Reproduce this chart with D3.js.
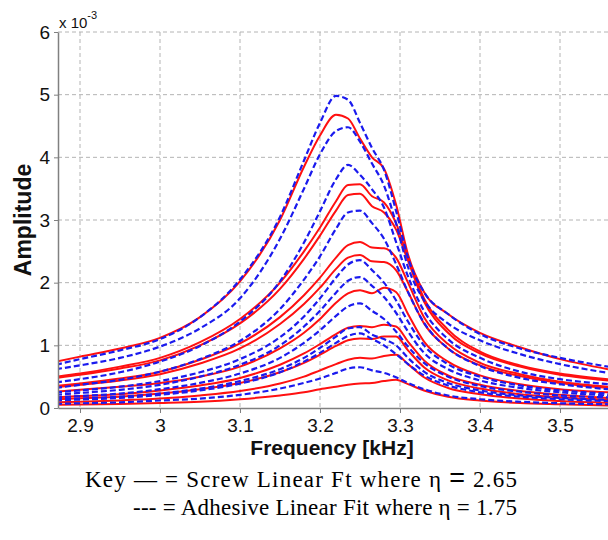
<!DOCTYPE html>
<html>
<head>
<meta charset="utf-8">
<script src="https://cdn.jsdelivr.net/npm/d3@7"></script>
<style>
  body { margin: 0; background: #fff; }
  svg { display: block; }
</style>
</head>
<body>
<div id="chart"></div>
<script>
// frequency samples [kHz]
const freqs = [2.87, 2.9, 2.95, 3.0, 3.05, 3.1, 3.15, 3.18, 3.2, 3.22, 3.235, 3.25, 3.265, 3.28, 3.295, 3.31, 3.33, 3.36, 3.4, 3.45, 3.5, 3.56];

// amplitudes in units of 1e-3
// screw linear fit (red, solid)
const screwFits = [
  [0.74, 0.82, 0.95, 1.12, 1.45, 2.02, 3.0, 3.85, 4.35, 4.68, 4.62, 4.3, 4.0, 3.82, 3.25, 2.45, 1.85, 1.5, 1.2, 0.97, 0.78, 0.62],
  [0.5, 0.55, 0.66, 0.8, 1.05, 1.42, 2.0, 2.5, 2.88, 3.3, 3.56, 3.57, 3.38, 3.28, 2.95, 2.4, 1.75, 1.25, 0.9, 0.68, 0.55, 0.46],
  [0.48, 0.53, 0.63, 0.76, 1.0, 1.35, 1.9, 2.38, 2.75, 3.15, 3.4, 3.42, 3.22, 3.12, 2.85, 2.35, 1.7, 1.2, 0.87, 0.66, 0.53, 0.44],
  [0.35, 0.39, 0.47, 0.58, 0.77, 1.03, 1.45, 1.8, 2.08, 2.4, 2.6, 2.65, 2.56, 2.55, 2.4, 2.0, 1.45, 1.02, 0.72, 0.54, 0.42, 0.34],
  [0.33, 0.37, 0.44, 0.54, 0.71, 0.95, 1.34, 1.66, 1.92, 2.22, 2.4, 2.44, 2.34, 2.33, 2.2, 1.85, 1.35, 0.95, 0.68, 0.51, 0.4, 0.32],
  [0.26, 0.29, 0.34, 0.4, 0.5, 0.66, 0.95, 1.2, 1.42, 1.68, 1.83, 1.88, 1.83, 1.92, 1.85, 1.5, 1.06, 0.74, 0.52, 0.38, 0.3, 0.25],
  [0.17, 0.19, 0.22, 0.28, 0.36, 0.48, 0.69, 0.87, 1.02, 1.18, 1.28, 1.31, 1.29, 1.33, 1.3, 1.06, 0.76, 0.52, 0.37, 0.27, 0.21, 0.16],
  [0.14, 0.155, 0.18, 0.23, 0.3, 0.4, 0.57, 0.72, 0.85, 0.99, 1.08, 1.11, 1.1, 1.14, 1.14, 0.92, 0.65, 0.44, 0.31, 0.22, 0.17, 0.13],
  [0.09, 0.1, 0.12, 0.15, 0.2, 0.27, 0.39, 0.5, 0.6, 0.7, 0.77, 0.8, 0.79, 0.83, 0.85, 0.7, 0.49, 0.32, 0.22, 0.15, 0.11, 0.08],
  [0.05, 0.055, 0.065, 0.08, 0.1, 0.14, 0.2, 0.25, 0.3, 0.34, 0.37, 0.39, 0.4, 0.43, 0.45, 0.38, 0.28, 0.18, 0.12, 0.08, 0.06, 0.04],
];

// adhesive linear fit (blue, dashed)
const adhesiveFits = [
  [0.69, 0.78, 0.92, 1.1, 1.45, 2.05, 3.05, 3.95, 4.55, 4.98, 4.92, 4.55, 4.15, 3.8, 3.15, 2.4, 1.85, 1.5, 1.18, 0.95, 0.8, 0.66],
  [0.62, 0.68, 0.8, 0.98, 1.27, 1.75, 2.7, 3.5, 4.05, 4.42, 4.48, 4.25, 3.9, 3.55, 2.95, 2.25, 1.72, 1.35, 1.08, 0.86, 0.7, 0.56],
  [0.41, 0.46, 0.57, 0.74, 0.99, 1.38, 2.02, 2.64, 3.14, 3.65, 3.88, 3.72, 3.49, 3.2, 2.65, 2.1, 1.55, 1.1, 0.8, 0.58, 0.46, 0.38],
  [0.32, 0.37, 0.45, 0.58, 0.78, 1.07, 1.58, 2.05, 2.42, 2.86, 3.12, 3.15, 2.95, 2.7, 2.3, 1.85, 1.36, 0.95, 0.67, 0.48, 0.38, 0.3],
  [0.25, 0.28, 0.34, 0.43, 0.57, 0.78, 1.13, 1.46, 1.75, 2.08, 2.29, 2.36, 2.2, 2.0, 1.72, 1.38, 1.0, 0.7, 0.5, 0.36, 0.28, 0.23],
  [0.21, 0.24, 0.29, 0.37, 0.5, 0.69, 1.0, 1.3, 1.55, 1.84, 2.03, 2.09, 1.95, 1.77, 1.52, 1.22, 0.88, 0.62, 0.44, 0.32, 0.25, 0.2],
  [0.17, 0.19, 0.23, 0.3, 0.4, 0.55, 0.8, 1.04, 1.24, 1.47, 1.62, 1.67, 1.55, 1.42, 1.22, 0.98, 0.72, 0.5, 0.35, 0.26, 0.2, 0.17],
  [0.14, 0.15, 0.18, 0.23, 0.31, 0.43, 0.62, 0.8, 0.96, 1.14, 1.27, 1.29, 1.17, 1.1, 1.0, 0.8, 0.58, 0.4, 0.28, 0.2, 0.16, 0.13],
  [0.12, 0.135, 0.16, 0.21, 0.28, 0.39, 0.57, 0.74, 0.88, 1.04, 1.15, 1.19, 1.1, 1.0, 0.86, 0.7, 0.52, 0.36, 0.25, 0.18, 0.14, 0.11],
  [0.065, 0.075, 0.09, 0.12, 0.15, 0.21, 0.31, 0.4, 0.47, 0.56, 0.63, 0.65, 0.6, 0.56, 0.49, 0.4, 0.3, 0.2, 0.14, 0.1, 0.075, 0.06],
];

const xTicks = [2.9, 3, 3.1, 3.2, 3.3, 3.4, 3.5];
const yTicks = [0, 1, 2, 3, 4, 5, 6];

const width = 608;
const height = 540;
const margin = { left: 58, right: 0, top: 32, bottom: 132 };

const svg = d3
  .select("#chart")
  .append("svg")
  .attr("width", width)
  .attr("height", height);

const x = d3.scaleLinear().domain([2.8725, 3.56]).range([margin.left, width - margin.right]);
const y = d3.scaleLinear().domain([0, 6]).range([height - margin.bottom, margin.top]);

const sans = "'Liberation Sans', Arial, sans-serif";
const serif = "'Liberation Serif', 'Times New Roman', serif";

// grid
const grid = svg.append("g").attr("stroke", "#b4b4b4").attr("stroke-width", 1).attr("stroke-dasharray", "4,3");
grid
  .selectAll("line.vx")
  .data(xTicks)
  .enter()
  .append("line")
  .attr("x1", (d) => x(d))
  .attr("x2", (d) => x(d))
  .attr("y1", y(6))
  .attr("y2", y(0));
grid
  .selectAll("line.hy")
  .data(yTicks.filter((d) => d > 0))
  .enter()
  .append("line")
  .attr("x1", x.range()[0])
  .attr("x2", x.range()[1])
  .attr("y1", (d) => y(d))
  .attr("y2", (d) => y(d));

svg
  .append("clipPath")
  .attr("id", "plot-clip")
  .append("rect")
  .attr("x", margin.left)
  .attr("y", margin.top)
  .attr("width", width - margin.left - margin.right)
  .attr("height", height - margin.top - margin.bottom);

const line = d3
  .line()
  .x((d, i) => x(freqs[i]))
  .y((d) => y(d))
  .curve(d3.curveMonotoneX);

const curves = svg.append("g").attr("clip-path", "url(#plot-clip)").attr("fill", "none");

curves
  .selectAll("path.screw")
  .data(screwFits)
  .enter()
  .append("path")
  .attr("class", "screw")
  .attr("d", line)
  .attr("stroke", "#ff1010")
  .attr("stroke-width", 2);

curves
  .selectAll("path.adhesive")
  .data(adhesiveFits)
  .enter()
  .append("path")
  .attr("class", "adhesive")
  .attr("d", line)
  .attr("stroke", "#1a1aee")
  .attr("stroke-width", 2.2)
  .attr("stroke-dasharray", "6,3");

// axes
const xAxis = svg
  .append("g")
  .attr("transform", `translate(0,${y(0)})`)
  .call(
    d3.axisBottom(x).tickValues(xTicks).tickSize(5).tickPadding(6).tickSizeOuter(0).tickFormat((d) => String(d))
  );
xAxis.selectAll("text").attr("font-family", sans).attr("font-size", 19).attr("fill", "#111");

const yAxis = svg
  .append("g")
  .attr("transform", `translate(${x.range()[0]},0)`)
  .call(d3.axisLeft(y).tickValues(yTicks).tickSize(4).tickPadding(4).tickSizeOuter(0).tickFormat((d) => String(d)));
yAxis.selectAll("text").attr("font-family", sans).attr("font-size", 19).attr("fill", "#111");

svg.selectAll(".domain").attr("stroke", "#808080").attr("stroke-width", 1.5);
svg.selectAll(".tick line").attr("stroke", "#808080");

// exponent label
const expo = svg.append("text").attr("x", 59).attr("y", 28).attr("font-family", sans).attr("font-size", 15).attr("fill", "#111");
expo.append("tspan").text("x 10");
expo.append("tspan").attr("dy", -9).attr("font-size", 11).text("-3");

// axis titles
svg
  .append("text")
  .attr("transform", `translate(31,220) rotate(-90)`)
  .attr("text-anchor", "middle")
  .attr("font-family", sans)
  .attr("font-weight", "bold")
  .attr("font-size", 23)
  .attr("fill", "#111")
  .text("Amplitude");

svg
  .append("text")
  .attr("x", 332)
  .attr("y", 455)
  .attr("text-anchor", "middle")
  .attr("font-family", sans)
  .attr("font-weight", "bold")
  .attr("font-size", 21)
  .attr("fill", "#111")
  .text("Frequency [kHz]");

// key
const key1 = svg
  .append("text")
  .attr("x", 85)
  .attr("y", 487)
  .attr("font-family", serif)
  .attr("font-size", 23)
  .attr("fill", "#000")
  .attr("textLength", 432)
  .attr("lengthAdjust", "spacing");
key1.append("tspan").text("Key \u2014 = Screw Linear Ft where \u03b7 ");
key1.append("tspan").attr("font-family", sans).attr("font-size", 27).text("=");
key1.append("tspan").text(" 2.65");

svg
  .append("text")
  .attr("x", 133)
  .attr("y", 515)
  .attr("font-family", serif)
  .attr("font-size", 23)
  .attr("fill", "#000")
  .attr("textLength", 384)
  .attr("lengthAdjust", "spacing")
  .text("--- = Adhesive Linear Fit where \u03b7 = 1.75");
</script>
</body>
</html>
